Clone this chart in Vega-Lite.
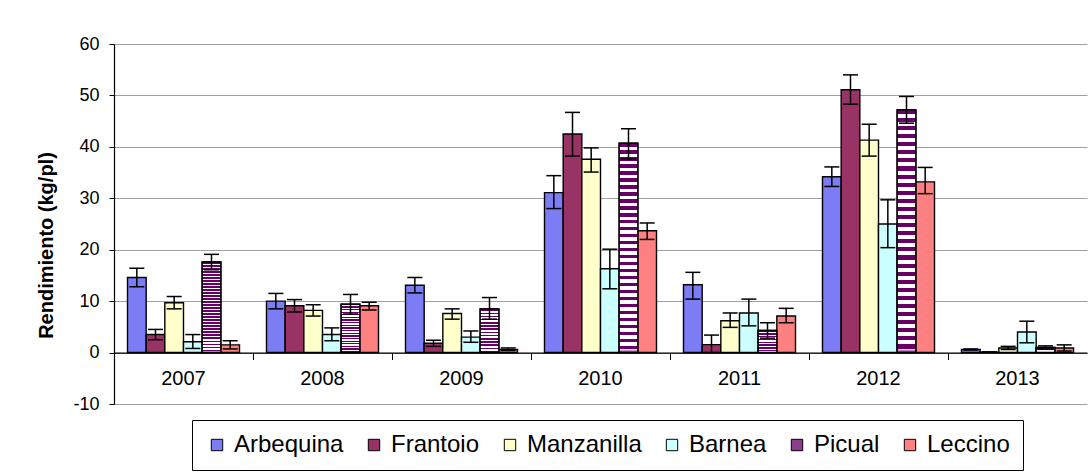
{
  "$schema": "https://vega.github.io/schema/vega-lite/v6.json",
  "width": 973,
  "height": 360,
  "autosize": {"type": "none"},
  "padding": {"left": 114, "top": 44, "right": 2, "bottom": 71},
  "background": "white",
  "config": {
    "font": "Liberation Sans",
    "view": {"stroke": null}
  },
  "data": {
    "values": [
      {"year": "2007", "cultivar": "Arbequina", "value": 14.6, "lo": 12.8, "hi": 16.4},
      {"year": "2007", "cultivar": "Frantoio", "value": 3.5, "lo": 2.5, "hi": 4.5},
      {"year": "2007", "cultivar": "Manzanilla", "value": 9.7, "lo": 8.5, "hi": 10.9},
      {"year": "2007", "cultivar": "Barnea", "value": 2.1, "lo": 0.8, "hi": 3.5},
      {"year": "2007", "cultivar": "Picual", "value": 17.6, "lo": 16.1, "hi": 19.1},
      {"year": "2007", "cultivar": "Leccino", "value": 1.5, "lo": 0.7, "hi": 2.3},
      {"year": "2008", "cultivar": "Arbequina", "value": 10.0, "lo": 8.5, "hi": 11.5},
      {"year": "2008", "cultivar": "Frantoio", "value": 9.1, "lo": 7.9, "hi": 10.3},
      {"year": "2008", "cultivar": "Manzanilla", "value": 8.2, "lo": 7.1, "hi": 9.3},
      {"year": "2008", "cultivar": "Barnea", "value": 3.5, "lo": 2.3, "hi": 4.8},
      {"year": "2008", "cultivar": "Picual", "value": 9.4, "lo": 7.5, "hi": 11.3},
      {"year": "2008", "cultivar": "Leccino", "value": 9.1, "lo": 8.3, "hi": 9.8},
      {"year": "2009", "cultivar": "Arbequina", "value": 13.1, "lo": 11.6, "hi": 14.6},
      {"year": "2009", "cultivar": "Frantoio", "value": 1.8, "lo": 1.2, "hi": 2.4},
      {"year": "2009", "cultivar": "Manzanilla", "value": 7.6, "lo": 6.5, "hi": 8.5},
      {"year": "2009", "cultivar": "Barnea", "value": 3.0, "lo": 2.0, "hi": 4.2},
      {"year": "2009", "cultivar": "Picual", "value": 8.5, "lo": 6.5, "hi": 10.7},
      {"year": "2009", "cultivar": "Leccino", "value": 0.6, "lo": 0.4, "hi": 0.9},
      {"year": "2010", "cultivar": "Arbequina", "value": 31.1, "lo": 28.0, "hi": 34.4},
      {"year": "2010", "cultivar": "Frantoio", "value": 42.5, "lo": 38.2, "hi": 46.7},
      {"year": "2010", "cultivar": "Manzanilla", "value": 37.6, "lo": 35.1, "hi": 39.8},
      {"year": "2010", "cultivar": "Barnea", "value": 16.3, "lo": 12.4, "hi": 20.1},
      {"year": "2010", "cultivar": "Picual", "value": 40.7, "lo": 37.6, "hi": 43.5},
      {"year": "2010", "cultivar": "Leccino", "value": 23.7, "lo": 22.0, "hi": 25.2},
      {"year": "2011", "cultivar": "Arbequina", "value": 13.2, "lo": 10.4, "hi": 15.6},
      {"year": "2011", "cultivar": "Frantoio", "value": 1.55, "lo": 0.0, "hi": 3.4},
      {"year": "2011", "cultivar": "Manzanilla", "value": 6.2, "lo": 4.9, "hi": 7.7},
      {"year": "2011", "cultivar": "Barnea", "value": 7.7, "lo": 5.2, "hi": 10.4},
      {"year": "2011", "cultivar": "Picual", "value": 4.3, "lo": 2.8, "hi": 5.8},
      {"year": "2011", "cultivar": "Leccino", "value": 7.1, "lo": 5.8, "hi": 8.6},
      {"year": "2012", "cultivar": "Arbequina", "value": 34.2, "lo": 32.3, "hi": 36.1},
      {"year": "2012", "cultivar": "Frantoio", "value": 51.1, "lo": 48.3, "hi": 54.0},
      {"year": "2012", "cultivar": "Manzanilla", "value": 41.3, "lo": 38.2, "hi": 44.4},
      {"year": "2012", "cultivar": "Barnea", "value": 25.0, "lo": 20.4, "hi": 29.7},
      {"year": "2012", "cultivar": "Picual", "value": 47.2, "lo": 44.6, "hi": 49.8},
      {"year": "2012", "cultivar": "Leccino", "value": 33.2, "lo": 30.9, "hi": 36.0},
      {"year": "2013", "cultivar": "Arbequina", "value": 0.6, "lo": 0.5, "hi": 0.7},
      {"year": "2013", "cultivar": "Frantoio", "value": 0.1, "lo": 0.1, "hi": 0.1},
      {"year": "2013", "cultivar": "Manzanilla", "value": 0.9, "lo": 0.6, "hi": 1.2},
      {"year": "2013", "cultivar": "Barnea", "value": 4.0, "lo": 1.9, "hi": 6.1},
      {"year": "2013", "cultivar": "Picual", "value": 1.0, "lo": 0.7, "hi": 1.3},
      {"year": "2013", "cultivar": "Leccino", "value": 0.9, "lo": 0.3, "hi": 1.5}
    ]
  },
  "encoding": {
    "x": {
      "field": "year",
      "type": "nominal",
      "scale": {"paddingInner": 0, "paddingOuter": 0},
      "axis": {
        "title": null,
        "labelAngle": 0,
        "offset": -51.43,
        "bandPosition": 0,
        "labelFontSize": 20,
        "labelColor": "black",
        "labelPadding": 9,
        "tickSize": 7,
        "tickColor": "black",
        "domainColor": "black",
        "domainWidth": 1.2,
        "grid": false
      }
    },
    "xOffset": {
      "field": "cultivar",
      "type": "nominal",
      "scale": {
        "domain": ["Arbequina", "Frantoio", "Manzanilla", "Barnea", "Picual", "Leccino"],
        "paddingInner": 0,
        "paddingOuter": 0.723
      }
    }
  },
  "layer": [
    {
      "mark": {"type": "bar", "stroke": "black", "strokeWidth": 1.4},
      "encoding": {
        "y": {
          "field": "value",
          "type": "quantitative",
          "scale": {"domain": [-10, 60], "nice": false},
          "axis": {
            "title": "Rendimiento (kg/pl)",
            "titleFontSize": 20,
            "titleFontWeight": "bold",
            "titleColor": "black",
            "titlePadding": 16,
            "titleY": 201,
            "values": [-10, 0, 10, 20, 30, 40, 50, 60],
            "labelExpr": "'' + datum.value",
            "labelFontSize": 18,
            "labelColor": "black",
            "labelPadding": 10,
            "tickSize": 5,
            "tickColor": "black",
            "domainColor": "black",
            "domainWidth": 1.2,
            "gridColor": "#a0a0a0",
            "gridWidth": 1.2
          }
        },
        "fill": {
          "field": "cultivar",
          "type": "nominal",
          "scale": {
            "domain": ["Arbequina", "Frantoio", "Manzanilla", "Barnea", "Picual", "Leccino"],
            "range": ["#7c7cf4", "#993366", "#ffffcc", "#ccffff", "#8a3d8a", "#ff8080"]
          },
          "legend": {
            "title": null,
            "orient": "none",
            "direction": "horizontal",
            "legendX": 78,
            "legendY": 376,
            "strokeColor": "black",
            "fillColor": "white",
            "padding": 13,
            "symbolType": "square",
            "symbolSize": 130,
            "symbolStrokeColor": "black",
            "symbolStrokeWidth": 1,
            "labelFontSize": 24,
            "labelColor": "black",
            "labelOffset": 5,
            "columnPadding": 18
          }
        }
      }
    },
    {
      "transform": [{"filter": "datum.cultivar === 'Picual'"}],
      "mark": {
        "type": "bar",
        "stroke": "black",
        "strokeWidth": 1.4,
        "fill": {
          "gradient": "linear",
          "x1": 0, "y1": 0, "x2": 0, "y2": 1,
          "stops": [
            {"offset": 0, "color": "#660066"}, {"offset": 0.0167, "color": "#660066"}, {"offset": 0.0167, "color": "#ffffff"}, {"offset": 0.0333, "color": "#ffffff"},
            {"offset": 0.0333, "color": "#660066"}, {"offset": 0.05, "color": "#660066"}, {"offset": 0.05, "color": "#ffffff"}, {"offset": 0.0667, "color": "#ffffff"},
            {"offset": 0.0667, "color": "#660066"}, {"offset": 0.0833, "color": "#660066"}, {"offset": 0.0833, "color": "#ffffff"}, {"offset": 0.1, "color": "#ffffff"},
            {"offset": 0.1, "color": "#660066"}, {"offset": 0.1167, "color": "#660066"}, {"offset": 0.1167, "color": "#ffffff"}, {"offset": 0.1333, "color": "#ffffff"},
            {"offset": 0.1333, "color": "#660066"}, {"offset": 0.15, "color": "#660066"}, {"offset": 0.15, "color": "#ffffff"}, {"offset": 0.1667, "color": "#ffffff"},
            {"offset": 0.1667, "color": "#660066"}, {"offset": 0.1833, "color": "#660066"}, {"offset": 0.1833, "color": "#ffffff"}, {"offset": 0.2, "color": "#ffffff"},
            {"offset": 0.2, "color": "#660066"}, {"offset": 0.2167, "color": "#660066"}, {"offset": 0.2167, "color": "#ffffff"}, {"offset": 0.2333, "color": "#ffffff"},
            {"offset": 0.2333, "color": "#660066"}, {"offset": 0.25, "color": "#660066"}, {"offset": 0.25, "color": "#ffffff"}, {"offset": 0.2667, "color": "#ffffff"},
            {"offset": 0.2667, "color": "#660066"}, {"offset": 0.2833, "color": "#660066"}, {"offset": 0.2833, "color": "#ffffff"}, {"offset": 0.3, "color": "#ffffff"},
            {"offset": 0.3, "color": "#660066"}, {"offset": 0.3167, "color": "#660066"}, {"offset": 0.3167, "color": "#ffffff"}, {"offset": 0.3333, "color": "#ffffff"},
            {"offset": 0.3333, "color": "#660066"}, {"offset": 0.35, "color": "#660066"}, {"offset": 0.35, "color": "#ffffff"}, {"offset": 0.3667, "color": "#ffffff"},
            {"offset": 0.3667, "color": "#660066"}, {"offset": 0.3833, "color": "#660066"}, {"offset": 0.3833, "color": "#ffffff"}, {"offset": 0.4, "color": "#ffffff"},
            {"offset": 0.4, "color": "#660066"}, {"offset": 0.4167, "color": "#660066"}, {"offset": 0.4167, "color": "#ffffff"}, {"offset": 0.4333, "color": "#ffffff"},
            {"offset": 0.4333, "color": "#660066"}, {"offset": 0.45, "color": "#660066"}, {"offset": 0.45, "color": "#ffffff"}, {"offset": 0.4667, "color": "#ffffff"},
            {"offset": 0.4667, "color": "#660066"}, {"offset": 0.4833, "color": "#660066"}, {"offset": 0.4833, "color": "#ffffff"}, {"offset": 0.5, "color": "#ffffff"},
            {"offset": 0.5, "color": "#660066"}, {"offset": 0.5167, "color": "#660066"}, {"offset": 0.5167, "color": "#ffffff"}, {"offset": 0.5333, "color": "#ffffff"},
            {"offset": 0.5333, "color": "#660066"}, {"offset": 0.55, "color": "#660066"}, {"offset": 0.55, "color": "#ffffff"}, {"offset": 0.5667, "color": "#ffffff"},
            {"offset": 0.5667, "color": "#660066"}, {"offset": 0.5833, "color": "#660066"}, {"offset": 0.5833, "color": "#ffffff"}, {"offset": 0.6, "color": "#ffffff"},
            {"offset": 0.6, "color": "#660066"}, {"offset": 0.6167, "color": "#660066"}, {"offset": 0.6167, "color": "#ffffff"}, {"offset": 0.6333, "color": "#ffffff"},
            {"offset": 0.6333, "color": "#660066"}, {"offset": 0.65, "color": "#660066"}, {"offset": 0.65, "color": "#ffffff"}, {"offset": 0.6667, "color": "#ffffff"},
            {"offset": 0.6667, "color": "#660066"}, {"offset": 0.6833, "color": "#660066"}, {"offset": 0.6833, "color": "#ffffff"}, {"offset": 0.7, "color": "#ffffff"},
            {"offset": 0.7, "color": "#660066"}, {"offset": 0.7167, "color": "#660066"}, {"offset": 0.7167, "color": "#ffffff"}, {"offset": 0.7333, "color": "#ffffff"},
            {"offset": 0.7333, "color": "#660066"}, {"offset": 0.75, "color": "#660066"}, {"offset": 0.75, "color": "#ffffff"}, {"offset": 0.7667, "color": "#ffffff"},
            {"offset": 0.7667, "color": "#660066"}, {"offset": 0.7833, "color": "#660066"}, {"offset": 0.7833, "color": "#ffffff"}, {"offset": 0.8, "color": "#ffffff"},
            {"offset": 0.8, "color": "#660066"}, {"offset": 0.8167, "color": "#660066"}, {"offset": 0.8167, "color": "#ffffff"}, {"offset": 0.8333, "color": "#ffffff"},
            {"offset": 0.8333, "color": "#660066"}, {"offset": 0.85, "color": "#660066"}, {"offset": 0.85, "color": "#ffffff"}, {"offset": 0.8667, "color": "#ffffff"},
            {"offset": 0.8667, "color": "#660066"}, {"offset": 0.8833, "color": "#660066"}, {"offset": 0.8833, "color": "#ffffff"}, {"offset": 0.9, "color": "#ffffff"},
            {"offset": 0.9, "color": "#660066"}, {"offset": 0.9167, "color": "#660066"}, {"offset": 0.9167, "color": "#ffffff"}, {"offset": 0.9333, "color": "#ffffff"},
            {"offset": 0.9333, "color": "#660066"}, {"offset": 0.95, "color": "#660066"}, {"offset": 0.95, "color": "#ffffff"}, {"offset": 0.9667, "color": "#ffffff"},
            {"offset": 0.9667, "color": "#660066"}, {"offset": 0.9833, "color": "#660066"}, {"offset": 0.9833, "color": "#ffffff"}, {"offset": 1, "color": "#660066"}
          ]
        }
      },
      "encoding": {
        "y": {"field": "value", "type": "quantitative"}
      }
    },
    {
      "mark": {"type": "rule", "color": "black", "strokeWidth": 1.5},
      "encoding": {
        "y": {"field": "lo", "type": "quantitative"},
        "y2": {"field": "hi"}
      }
    },
    {
      "mark": {"type": "tick", "color": "black", "size": 15, "thickness": 1.5, "opacity": 1},
      "encoding": {
        "y": {"field": "lo", "type": "quantitative"}
      }
    },
    {
      "mark": {"type": "tick", "color": "black", "size": 15, "thickness": 1.5, "opacity": 1},
      "encoding": {
        "y": {"field": "hi", "type": "quantitative"}
      }
    }
  ]
}
